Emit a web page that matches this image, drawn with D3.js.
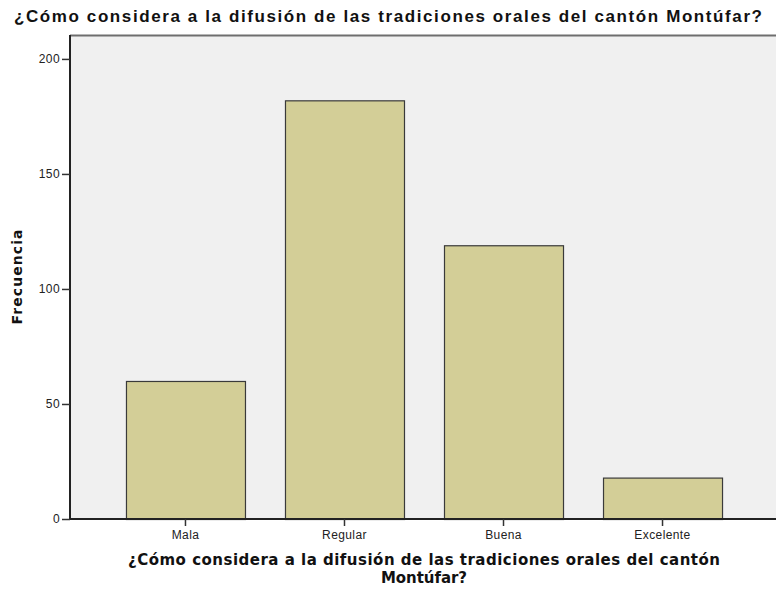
<!DOCTYPE html>
<html>
<head>
<meta charset="utf-8">
<script src="https://cdn.jsdelivr.net/npm/d3@7"></script>
<style>
  body { margin: 0; background: #fff; }
  text { font-family: "Liberation Sans", Arial, sans-serif; }
</style>
</head>
<body>
<svg width="776" height="592"></svg>
<script>
var categories = ["Mala", "Regular", "Buena", "Excelente"];
var frecuencia = [60, 182, 119, 18];
var yTicks = [0, 50, 100, 150, 200];
var titulo = "¿Cómo considera a la difusión de las tradiciones orales del cantón Montúfar?";
var xTitulo = ["¿Cómo considera a la difusión de las tradiciones orales del cantón", "Montúfar?"];

var svg = d3.select("svg"),
    width = +svg.attr("width"),
    height = +svg.attr("height");

var mLeft = 70, mRight = 778, mTop = 35, mBottom = 519;

var x = d3.scaleBand()
    .domain(categories)
    .range([mLeft, mRight])
    .paddingInner(0.2516)
    .paddingOuter(0.352);

var y = d3.scaleLinear()
    .domain([0, 210.4])
    .range([mBottom, mTop]);

// plot background
svg.append("rect")
    .attr("x", mLeft)
    .attr("y", mTop)
    .attr("width", mRight - mLeft)
    .attr("height", mBottom - mTop)
    .attr("fill", "#f0f0f0");

svg.append("line")
    .attr("x1", mLeft).attr("x2", mRight)
    .attr("y1", mTop + 0.5).attr("y2", mTop + 0.5)
    .attr("stroke", "#6e6e6e")
    .attr("stroke-width", 2);

svg.append("g")
    .selectAll("rect")
    .data(frecuencia)
    .enter().append("rect")
    .attr("x", function(d, i) { return x(categories[i]) + 0.5; })
    .attr("y", function(d) { return y(d) + 0.5; })
    .attr("width", x.bandwidth())
    .attr("height", function(d) { return y(0) - y(d); })
    .attr("fill", "#d3ce97")
    .attr("stroke", "#3a3a3a")
    .attr("stroke-width", 1.2);

var yAxis = svg.append("g")
    .attr("transform", "translate(" + mLeft + ",0)")
    .call(d3.axisLeft(y).tickValues(yTicks).tickSize(8).tickPadding(2));

var xAxis = svg.append("g")
    .attr("transform", "translate(0," + mBottom + ")")
    .call(d3.axisBottom(x).tickSize(7).tickPadding(4).tickSizeOuter(0));

[yAxis, xAxis].forEach(function(g) {
  g.select(".domain").attr("stroke", "#222").attr("stroke-width", 2);
  g.selectAll(".tick line").attr("stroke", "#333").attr("stroke-width", 1.5);
  g.selectAll(".tick text")
      .attr("fill", "#222")
      .style("font-family", "'Liberation Sans', Arial, sans-serif")
      .style("font-size", "12px")
      .style("letter-spacing", "0.4px");
});
yAxis.select(".domain").attr("d", "M0," + mBottom + "V" + mTop);
xAxis.select(".domain").attr("d", "M" + mLeft + ",0H" + mRight);

svg.append("text")
    .attr("x", 388)
    .attr("y", 22)
    .attr("text-anchor", "middle")
    .attr("font-weight", "bold")
    .attr("font-size", "17px")
    .attr("textLength", 748)
    .attr("lengthAdjust", "spacing")
    .attr("fill", "#111")
    .text(titulo);

svg.append("text")
    .attr("transform", "translate(22," + ((mTop + mBottom) / 2) + ") rotate(-90)")
    .attr("text-anchor", "middle")
    .attr("font-weight", "bold")
    .attr("font-size", "14px")
    .attr("textLength", 95)
    .attr("lengthAdjust", "spacing")
    .style("font-family", "'DejaVu Sans', sans-serif")
    .attr("fill", "#111")
    .text("Frecuencia");

svg.append("g")
    .selectAll("text")
    .data(xTitulo)
    .enter().append("text")
    .attr("x", (mLeft + mRight) / 2)
    .attr("y", function(d, i) { return 565 + i * 18; })
    .attr("text-anchor", "middle")
    .attr("font-weight", "bold")
    .attr("font-size", "15px")
    .attr("textLength", function(d, i) { return i === 0 ? 592 : 86; })
    .attr("lengthAdjust", "spacing")
    .style("font-family", "'DejaVu Sans', sans-serif")
    .attr("fill", "#111")
    .text(function(d) { return d; });
</script>
</body>
</html>
